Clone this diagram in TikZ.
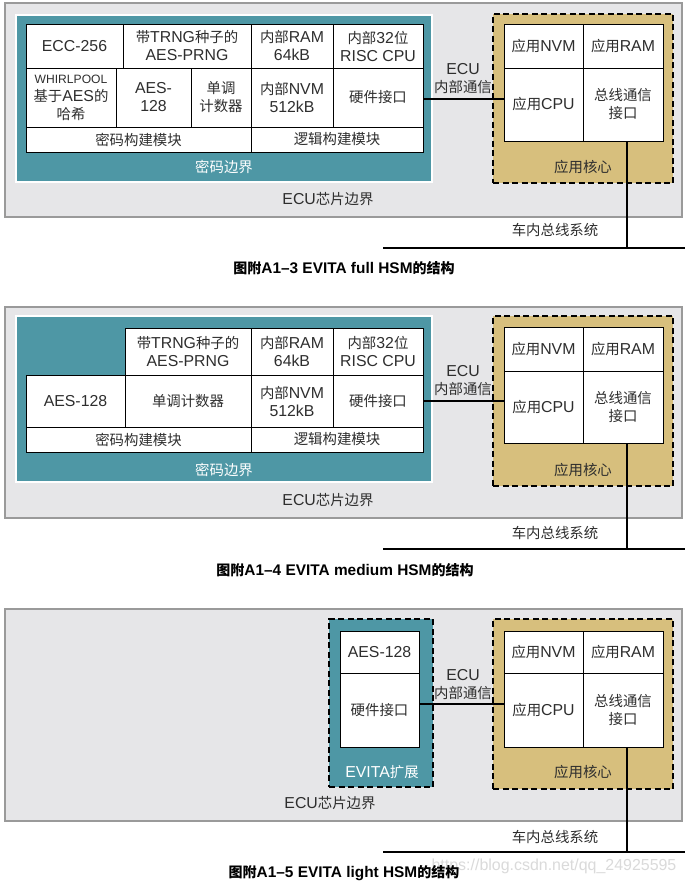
\documentclass[tikz,border=0pt]{standalone}
\usepackage{fontspec}
\setmainfont{Noto Sans CJK SC}
\newfontfamily\latinfam{Liberation Sans}[Scale=1.1]
\newfontfamily\cjkfam{Noto Sans CJK SC}
\XeTeXinterchartokenstate=1
\newXeTeXintercharclass\mycjkclass
\makeatletter
\def\my@assign#1#2{\count@=#1\relax
  \loop\XeTeXcharclass\count@=\mycjkclass
  \ifnum\count@<#2\relax\advance\count@ by 1\relax\repeat}
\my@assign{"3000}{"303F}
\my@assign{"4E00}{"9FFF}
\my@assign{"FF00}{"FFEF}
\makeatother
\XeTeXinterchartoks 0 \mycjkclass = {\cjkfam}
\XeTeXinterchartoks 4095 \mycjkclass = {\cjkfam}
\XeTeXinterchartoks \mycjkclass 0 = {\latinfam}
\XeTeXinterchartoks 4095 0 = {\latinfam}
\definecolor{txt}{HTML}{2E2E2E}
\definecolor{chipfill}{HTML}{E6E6E8}
\definecolor{chipline}{HTML}{9A9A9A}
\definecolor{tealc}{HTML}{4E97A5}
\definecolor{tanc}{HTML}{D7BF7D}
\definecolor{wm}{HTML}{DADADA}
\newcommand\bx[7]{\node[#1, minimum width={(#5)-(#3)}, minimum height={(#6)-(#4)}] (#2) at ({((#3)+(#5))/2},{((#4)+(#6))/2}) {#7};}
\begin{document}
\begin{tikzpicture}[x=1pt,y=-1pt,
  every node/.style={text=txt, font=\fontsize{14.4}{18}\selectfont, inner sep=0pt, outer sep=0pt, align=center},
  cellbox/.style={draw=black, line width=0.9pt, fill=white},
  chipbox/.style={draw=chipline, fill=chipfill, line width=1.2pt},
  hsmbox/.style={draw=white, fill=tealc, line width=2pt},
  evitabox/.style={draw=black, fill=tealc, line width=2pt, dash pattern=on 6pt off 3.5pt},
  corebox/.style={draw=black, fill=tanc, line width=2pt, dash pattern=on 6pt off 3.5pt},
  wlabel/.style={text=white},
  linkline/.style={draw=black, line width=1.8pt},
  captext/.style={font=\fontsize{14}{18}\selectfont\bfseries, text=black}
]
\useasboundingbox (0,0) rectangle (685,883);
\fill[white] (0,0) rectangle (685,883);

% ================= Diagram 1 =================
\bx{chipbox}{chipA}{5}{3}{682}{217}{}
\bx{hsmbox}{hsmA}{16}{15}{432}{182}{}
\bx{cellbox}{eccA}{26}{24}{123}{68}{ECC-256}
\bx{cellbox}{prngA}{123}{24}{251}{68}{带TRNG种子的\\AES-PRNG}
\bx{cellbox}{ramA}{251}{24}{333}{68}{内部RAM\\64kB}
\bx{cellbox}{cpuA}{333}{24}{423}{68}{内部32位\\RISC CPU}
\bx{cellbox}{whA}{26}{68}{116}{127}{{\fontsize{11}{17}\selectfont WHIRLPOOL}\\基于AES的\\哈希}
\bx{cellbox}{aesA}{116}{68}{191}{127}{AES-\\128}
\bx{cellbox}{cntA}{191}{68}{251}{127}{单调\\计数器}
\bx{cellbox}{nvmA}{251}{68}{333}{127}{内部NVM\\512kB}
\bx{cellbox}{hwA}{333}{68}{423}{127}{硬件接口}
\bx{cellbox}{cryA}{26}{127}{251}{152}{密码构建模块}
\bx{cellbox}{logA}{251}{127}{423}{152}{逻辑构建模块}
\node[wlabel] (hsmlA) at (224,167) {密码边界};
\node (chiplA) at (328,199) {ECU芯片边界};
\bx{corebox}{coreA}{493}{14}{673}{183}{}
\bx{cellbox}{anvmA}{504}{24}{583}{68}{应用NVM}
\bx{cellbox}{aramA}{583}{24}{663}{68}{应用RAM}
\bx{cellbox}{acpuA}{504}{68}{583}{141}{应用CPU}
\bx{cellbox}{abusA}{583}{68}{663}{141}{总线通信\\接口}
\node (corelA) at (583,167) {应用核心};
\node (ecuA) at (463,79) {ECU\\内部通信};
\draw[linkline] ([yshift=-1.5pt]hwA.east) -- ([yshift=-1.5pt]hwA.east -| acpuA.west);
\coordinate (dropA) at (627,248);
\coordinate (busLA) at (383,248);
\coordinate (busRA) at (685,248);
\draw[linkline] (dropA |- abusA.south) -- (dropA);
\draw[linkline] (busLA) -- (busRA);
\node (buslblA) at (555,230) {车内总线系统};
\node[captext] (capA) at (344,268) {图附A1–3 EVITA full HSM的结构};

% ================= Diagram 2 =================
\bx{chipbox}{chipB}{5}{307}{682}{518}{}
\bx{hsmbox}{hsmB}{16}{316}{432}{482}{}
\bx{cellbox}{prngB}{125}{328}{251}{375}{带TRNG种子的\\AES-PRNG}
\bx{cellbox}{ramB}{251}{328}{333}{375}{内部RAM\\64kB}
\bx{cellbox}{cpuB}{333}{328}{423}{375}{内部32位\\RISC CPU}
\bx{cellbox}{aesB}{26}{375}{125}{427}{AES-128}
\bx{cellbox}{cntB}{125}{375}{251}{427}{单调计数器}
\bx{cellbox}{nvmB}{251}{375}{333}{427}{内部NVM\\512kB}
\bx{cellbox}{hwB}{333}{375}{423}{427}{硬件接口}
\bx{cellbox}{cryB}{26}{427}{251}{452}{密码构建模块}
\bx{cellbox}{logB}{251}{427}{423}{452}{逻辑构建模块}
\node[wlabel] (hsmlB) at (224,470) {密码边界};
\node (chiplB) at (328,500) {ECU芯片边界};
\bx{corebox}{coreB}{493}{316}{673}{486}{}
\bx{cellbox}{anvmB}{504}{327}{583}{371}{应用NVM}
\bx{cellbox}{aramB}{583}{327}{663}{371}{应用RAM}
\bx{cellbox}{acpuB}{504}{371}{583}{443}{应用CPU}
\bx{cellbox}{abusB}{583}{371}{663}{443}{总线通信\\接口}
\node (corelB) at (583,470) {应用核心};
\node (ecuB) at (463,381) {ECU\\内部通信};
\draw[linkline] (hwB.east) -- (hwB.east -| acpuB.west);
\coordinate (dropB) at (627,549);
\coordinate (busLB) at (383,549);
\coordinate (busRB) at (685,549);
\draw[linkline] (dropB |- abusB.south) -- (dropB);
\draw[linkline] (busLB) -- (busRB);
\node (buslblB) at (555,533) {车内总线系统};
\node[captext] (capB) at (345,570) {图附A1–4 EVITA medium HSM的结构};

% ================= Diagram 3 =================
\bx{chipbox}{chipC}{5}{609}{682}{821}{}
\bx{evitabox}{evC}{329}{619}{433}{787}{}
\bx{cellbox}{aesC}{340}{631}{419}{673}{AES-128}
\bx{cellbox}{hwC}{340}{673}{419}{747}{硬件接口}
\node[wlabel] (evlC) at (382,772) {EVITA扩展};
\node (chiplC) at (330,803) {ECU芯片边界};
\bx{corebox}{coreC}{493}{619}{673}{789}{}
\bx{cellbox}{anvmC}{504}{631}{583}{673}{应用NVM}
\bx{cellbox}{aramC}{583}{631}{663}{673}{应用RAM}
\bx{cellbox}{acpuC}{504}{673}{583}{747}{应用CPU}
\bx{cellbox}{abusC}{583}{673}{663}{747}{总线通信\\接口}
\node (corelC) at (583,772) {应用核心};
\node (ecuC) at (463,685) {ECU\\内部通信};
\draw[linkline] ([yshift=6pt]hwC.east) -- ([yshift=6pt]hwC.east -| acpuC.west);
\coordinate (dropC) at (627,852);
\coordinate (busLC) at (383,852);
\coordinate (busRC) at (685,852);
\draw[linkline] (dropC |- abusC.south) -- (dropC);
\draw[linkline] (busLC) -- (busRC);
\node (buslblC) at (555,837) {车内总线系统};
\node[text=wm, font=\fontsize{14.5}{18}\selectfont] (wmC) at (554,866) {https://blog.csdn.net/qq\_24925595};
\node[captext] (capC) at (344,873) {图附A1–5 EVITA light HSM的结构};
\end{tikzpicture}
\end{document}
